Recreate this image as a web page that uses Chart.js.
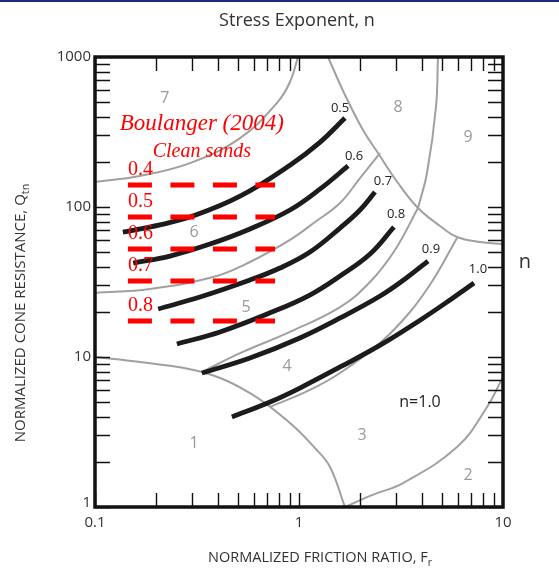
<!DOCTYPE html>
<html>
<head>
<meta charset="utf-8">
<script src="https://cdn.jsdelivr.net/npm/chart.js@4.4.0/dist/chart.umd.min.js"></script>
<style>
html, body { margin: 0; padding: 0; background: #fff; }
body { width: 559px; height: 584px; overflow: hidden; position: relative; }
.topbar { position: absolute; left: 0; top: 0; width: 559px; height: 2px; background: #1f2a7a; }
#wrap { position: absolute; left: 0; top: 0; }
</style>
</head>
<body>
<div id="wrap"><canvas id="c" width="559" height="584"></canvas></div>
<div class="topbar"></div>
<script>
// axis tick labels
const xTickLabels = ['0.1', '1', '10'];
const yTickLabels = ['1', '10', '100', '1000'];

// stress exponent contours (Fr in %, Qtn)
const nNames = ['0.5', '0.6', '0.7', '0.8', '0.9', '1.0'];
const n05Fr = [0.137, 0.208, 0.309, 0.514, 0.903, 1.27, 1.68];
const n05Q  = [68, 76, 88, 118, 190, 271, 392];
const n06Fr = [0.154, 0.233, 0.366, 0.575, 0.903, 1.27, 1.74];
const n06Q  = [42.3, 47.1, 56.6, 71.4, 95.5, 132, 188];
const n07Fr = [0.204, 0.327, 0.575, 0.807, 1.132, 1.589, 1.991, 2.358];
const n07Q  = [20.9, 25.1, 32.6, 39.2, 50.1, 72.4, 95.5, 126];
const n08Fr = [0.252, 0.41, 0.721, 1.13, 1.59, 2.23, 2.92];
const n08Q  = [12.2, 14.7, 19.7, 25.9, 34.7, 48.6, 73.6];
const n09Fr = [0.334, 0.575, 1.01, 1.59, 2.5, 3.308, 4.29];
const n09Q  = [7.82, 9.85, 13.4, 18.2, 25.5, 33.1, 43.6];
const n10Fr = [0.469, 0.721, 1.01, 1.59, 2.5, 3.92, 5.5, 7.21];
const n10Q  = [3.98, 5.01, 6.21, 8.58, 12.0, 17.6, 24.0, 31.1];
const nLabelFr = [1.589, 1.861, 2.581, 2.99, 4.436, 7.54];
const nLabelQ  = [457, 219, 149, 89.8, 52.5, 38.6];

// soil behaviour type zone boundaries
const z1Fr  = [0.1, 0.166, 0.3345, 0.575, 0.903, 1.198, 1.419, 1.68];
const z1Q   = [10, 9.26, 7.94, 5.75, 3.63, 2.47, 1.85, 1];
const z23Fr = [1.68, 2.279, 3.235, 5.95, 8.35, 10];
const z23Q  = [1, 1.2, 1.445, 2.51, 4.64, 7.36];
const z34Fr = [0.721, 1.132, 1.589, 2.495, 3.5, 4.539, 5.95];
const z34Q  = [4.64, 6.03, 7.82, 12.4, 19.95, 32.6, 62.1];
const z45Fr = [0.3345, 0.514, 0.903, 1.589, 2.228, 2.955, 3.831];
const z45Q  = [7.94, 10.6, 14.7, 21.5, 31.6, 51.7, 98.5];
const z56Fr = [0.1, 0.186, 0.379, 0.575, 0.903, 1.198, 1.589, 1.991, 2.495];
const z56Q  = [26.7, 28.4, 34.1, 43, 60.3, 79.4, 106.3, 156, 229];
const z67Fr = [0.1, 0.166, 0.292, 0.514, 0.78, 0.903, 0.989];
const z67Q  = [147, 161, 196, 288, 494, 681, 1000];
const z8Fr  = [1.387, 1.681, 2.059, 2.439, 3.057, 3.831, 4.913, 5.95, 7.716, 10];
const z8Q   = [1000, 558, 326, 229, 144.5, 98.5, 74.7, 63.1, 58.4, 56.7];
const z9Fr  = [3.831, 4.24, 4.694, 4.8];
const z9Q   = [98.5, 168.5, 464, 1000];
const zoneNames = ['1', '2', '3', '4', '5', '6', '7', '8', '9'];
const zoneFr = [0.306, 6.74, 2.036, 0.873, 0.55, 0.306, 0.22, 3.057, 6.74];
const zoneQ  = [2.67, 1.63, 3.02, 8.71, 21.5, 68.1, 533, 464, 293];

// Boulanger (2004) clean sand exponents
const bNames = ['0.4', '0.5', '0.6', '0.7', '0.8'];
const bQ = [140, 85.8, 52.5, 32.1, 17.4];
const bFrStart = 0.145, bFrEnd = 0.763;

function pts(fr, q) {
    return fr.map((v, i) => ({ x: v, y: q[i] }));
}

const datasets = [];
bQ.forEach(q => {
    datasets.push({ data: [{ x: bFrStart, y: q }, { x: bFrEnd, y: q }],
        borderColor: '#ff0000', borderWidth: 5, borderDash: [24, 18.5], tension: 0, order: 0 });
});
[[n05Fr, n05Q], [n06Fr, n06Q], [n07Fr, n07Q], [n08Fr, n08Q], [n09Fr, n09Q], [n10Fr, n10Q]].forEach(c => {
    datasets.push({ data: pts(c[0], c[1]), borderColor: '#1c1c1c', borderWidth: 4.8, order: 1 });
});
[[z1Fr, z1Q], [z23Fr, z23Q], [z34Fr, z34Q], [z45Fr, z45Q], [z56Fr, z56Q], [z67Fr, z67Q], [z8Fr, z8Q], [z9Fr, z9Q]].forEach(c => {
    datasets.push({ data: pts(c[0], c[1]), borderColor: '#a0a0a0', borderWidth: 2, order: 2 });
});

function subText(ctx, main, sub, x, y, size) {
    // centred text with a subscript on the end
    ctx.font = size + 'px "Open Sans"';
    let w1 = ctx.measureText(main).width;
    ctx.font = (size * 0.72) + 'px "Open Sans"';
    let w2 = ctx.measureText(sub).width;
    let left = x - (w1 + w2) / 2;
    ctx.textAlign = 'left';
    ctx.font = size + 'px "Open Sans"';
    ctx.fillText(main, left, y);
    ctx.font = (size * 0.72) + 'px "Open Sans"';
    ctx.fillText(sub, left + w1, y + size * 0.28);
}

const decor = {
    id: 'decor',
    afterDraw(chart) {
        const ctx = chart.ctx;
        const a = chart.chartArea;
        const x = chart.scales.x, y = chart.scales.y;
        ctx.save();

        // gray zone numbers
        ctx.fillStyle = '#9a9a9a';
        ctx.font = '16px "Open Sans"';
        ctx.textAlign = 'center';
        ctx.textBaseline = 'middle';
        zoneNames.forEach((t, i) => ctx.fillText(t, x.getPixelForValue(zoneFr[i]), y.getPixelForValue(zoneQ[i])));

        // contour labels
        ctx.fillStyle = '#222';
        ctx.font = '13px "Open Sans"';
        nNames.forEach((t, i) => ctx.fillText(t, x.getPixelForValue(nLabelFr[i]), y.getPixelForValue(nLabelQ[i])));
        ctx.font = '16px "Open Sans"';
        ctx.fillText('n=1.0', x.getPixelForValue(3.92), y.getPixelForValue(5.01));

        // Boulanger labels
        ctx.fillStyle = '#ff0000';
        ctx.font = 'italic 23px "Liberation Serif"';
        ctx.textBaseline = 'alphabetic';
        ctx.fillText('Boulanger (2004)', x.getPixelForValue(0.334), y.getPixelForValue(326));
        ctx.font = 'italic 20px "Liberation Serif"';
        ctx.fillText('Clean sands', x.getPixelForValue(0.334), y.getPixelForValue(215));
        ctx.font = '20px "Liberation Serif"';
        ctx.textAlign = 'left';
        ctx.textBaseline = 'middle';
        bNames.forEach((t, i) => ctx.fillText(t, x.getPixelForValue(bFrStart), y.getPixelForValue(bQ[i]) - 15));

        // frame and inward ticks
        ctx.strokeStyle = '#111';
        ctx.lineWidth = 1.4;
        ctx.beginPath();
        for (let d = 0.1; d < 10; d *= 10) {
            for (let k = 1; k <= 9; k++) {
                let px = Math.round(x.getPixelForValue(d * k)) + 0.5;
                ctx.moveTo(px, a.bottom); ctx.lineTo(px, a.bottom - 14);
                ctx.moveTo(px, a.top); ctx.lineTo(px, a.top + 14);
            }
        }
        for (let d = 1; d < 1000; d *= 10) {
            for (let k = 1; k <= 9; k++) {
                let py = Math.round(y.getPixelForValue(d * k)) + 0.5;
                ctx.moveTo(a.left, py); ctx.lineTo(a.left + 15, py);
                ctx.moveTo(a.right, py); ctx.lineTo(a.right - 15, py);
            }
        }
        ctx.stroke();
        ctx.lineWidth = 3.5;
        ctx.strokeRect(a.left, a.top, a.right - a.left, a.bottom - a.top);

        // tick labels
        ctx.fillStyle = '#333';
        ctx.font = '15px "Open Sans"';
        ctx.textAlign = 'center';
        ctx.textBaseline = 'middle';
        xTickLabels.forEach(t => ctx.fillText(t, x.getPixelForValue(Number(t)), a.bottom + 16));
        ctx.textAlign = 'right';
        yTickLabels.forEach(t => {
            let py = y.getPixelForValue(Number(t));
            if (t === '1') py -= 4;
            ctx.fillText(t, a.left - 4, py);
        });

        // titles
        ctx.textBaseline = 'alphabetic';
        ctx.textAlign = 'center';
        ctx.font = '18px "Open Sans"';
        ctx.fillText('Stress Exponent, n', 297, 26);
        subText(ctx, 'NORMALIZED FRICTION RATIO, F', 'r', 320, 562, 14.5);
        ctx.font = '20px "Open Sans"';
        ctx.textAlign = 'center';
        ctx.fillText('n', 525, 268);
        ctx.translate(25, 313);
        ctx.rotate(-Math.PI / 2);
        subText(ctx, 'NORMALIZED CONE RESISTANCE, Q', 'tn', 0, 0, 15);
        ctx.restore();
    }
};

new Chart(document.getElementById('c'), {
    type: 'scatter',
    data: { datasets: datasets },
    options: {
        responsive: false,
        animation: false,
        showLine: true,
        layout: { padding: { left: 95, top: 57, right: 56, bottom: 77 } },
        elements: {
            point: { radius: 0, hoverRadius: 0 },
            line: { tension: 0.4, borderCapStyle: 'butt' }
        },
        plugins: { legend: { display: false }, tooltip: { enabled: false } },
        scales: {
            x: { type: 'logarithmic', min: 0.1, max: 10, display: false },
            y: { type: 'logarithmic', min: 1, max: 1000, display: false }
        }
    },
    plugins: [decor]
});
</script>
</body>
</html>
